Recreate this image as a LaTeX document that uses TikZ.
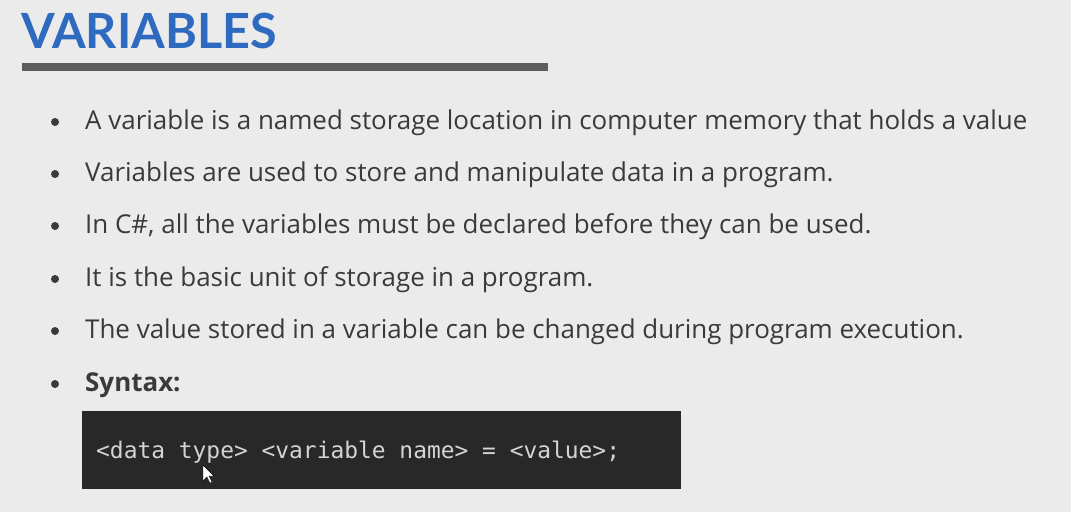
\documentclass[tikz,border=0pt]{standalone}
\usepackage{fontspec}
\setmainfont{Open Sans}
\newfontfamily\titlefont{Lato}
\setmonofont{DejaVu Sans Mono}
\definecolor{bgc}{HTML}{EBEBEB}
\definecolor{titleblue}{HTML}{2D6AC0}
\definecolor{rulegray}{HTML}{5C5C5C}
\definecolor{textgray}{HTML}{3A3A3A}
\definecolor{codebg}{HTML}{282828}
\definecolor{codefg}{HTML}{D4D4D4}
\begin{document}
\begin{tikzpicture}[x=1pt,y=-1pt,
  bodytext/.style={anchor=base west, inner sep=0pt, text=textgray, font=\fontsize{25.95}{30}\selectfont},
  bulletdot/.style={circle, fill=textgray, inner sep=0pt, minimum size=8pt}]
\fill[bgc] (0,0) rectangle (1071,512);
\useasboundingbox (0,0) rectangle (1071,512);
\node[anchor=base west, inner sep=0pt, text=titleblue, font=\fontsize{48.5}{56}\titlefont\bfseries] (title) at (21,48) {VARIABLES};
\fill[rulegray] (22,63) rectangle (548,71);
\foreach \y/\t [count=\i] in {
  129/{A variable is a named storage location in computer memory that holds a value},
  181/{Variables are used to store and manipulate data in a program.},
  233/{In C\#, all the variables must be declared before they can be used.},
  286/{It is the basic unit of storage in a program.},
  338/{The value stored in a variable can be changed during program execution.},
  391/{\bfseries Syntax:}} {
  \node[bodytext] (b\i) at (85,\y) {\t};
  \node[bulletdot] (d\i) at (55,\y-7) {};
}
\node[fill=codebg, minimum width=599pt, minimum height=78pt, anchor=north west, inner sep=0pt] (code) at (82,411) {};
\node[anchor=west, inner sep=0pt, text=codefg, font=\fontsize{22.9}{26}\ttfamily] (codetext) at (96,452) {<data type> <variable name> = <value>;};
\fill[white, draw=black, line width=0.4pt] (203,465) -- (203,481) -- (207,477) -- (210,483) -- (212,482) -- (209,476) -- (214,476) -- cycle;
\end{tikzpicture}
\end{document}
